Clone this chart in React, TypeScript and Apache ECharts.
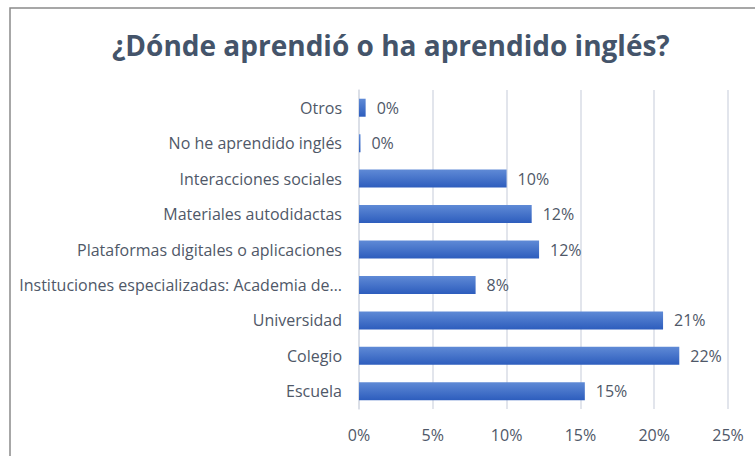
import React, { useEffect, useRef } from "react";
import * as echarts from "echarts";

const categories = [
  "Escuela",
  "Colegio",
  "Universidad",
  "Instituciones especializadas: Academia de…",
  "Plataformas digitales o aplicaciones",
  "Materiales autodidactas",
  "Interacciones sociales",
  "No he aprendido inglés",
  "Otros",
];
const values = [15.3, 21.7, 20.6, 7.9, 12.2, 11.7, 10.0, 0.1, 0.45];
const xTicks = { min: 0, max: 25, interval: 5 };
const titleText = "¿Dónde aprendió o ha aprendido inglés?";

export default function App() {
  const ref = useRef<HTMLDivElement>(null);
  useEffect(() => {
    if (!ref.current) return;
    const chart = echarts.init(ref.current, undefined, { renderer: "svg" });
    const labelColor = "#4f5868";
    const font = "Open Sans";
    chart.setOption({
      animation: false,
      backgroundColor: "#ffffff",
      title: {
        text: titleText,
        left: 107,
        top: 26,
        textStyle: {
          fontFamily: font,
          fontWeight: "bold",
          fontSize: 28,
          color: "#44546a",
        },
      },
      graphic: [
        {
          type: "rect",
          shape: { x: 10, y: 8, width: 900, height: 600 },
          style: { fill: "none", stroke: "#8a8a8a", lineWidth: 1.5 },
          silent: true,
        },
      ],
      grid: { left: 359, right: 27, top: 90, bottom: 47, containLabel: false },
      xAxis: {
        type: "value",
        min: xTicks.min,
        max: xTicks.max,
        interval: xTicks.interval,
        axisLine: { show: false },
        axisTick: { show: false },
        splitLine: { show: true, lineStyle: { color: "#d9dde6", width: 1.5 } },
        axisLabel: {
          formatter: (v: number) => `${v}%`,
          color: labelColor,
          fontFamily: font,
          fontSize: 16,
          margin: 18,
        },
      },
      yAxis: {
        type: "category",
        data: categories,
        axisLine: { show: true, lineStyle: { color: "#d9dde6", width: 1.5 } },
        axisTick: { show: false },
        axisLabel: {
          color: labelColor,
          fontFamily: font,
          fontSize: 16,
          margin: 17,
        },
      },
      series: [
        {
          type: "bar",
          data: values,
          barWidth: 18,
          itemStyle: {
            color: new echarts.graphic.LinearGradient(0, 0, 0, 1, [
              { offset: 0, color: "#5f8ad6" },
              { offset: 1, color: "#2d5dbd" },
            ]),
          },
          label: {
            show: true,
            position: "right",
            distance: 11,
            formatter: (p: any) => `${Math.round(p.value)}%`,
            color: labelColor,
            fontFamily: font,
            fontSize: 16,
          },
        },
      ],
    });
    return () => chart.dispose();
  }, []);
  return (
    <div
      ref={ref}
      style={{ position: "absolute", left: 0, top: 0, width: 755, height: 456 }}
    />
  );
}
